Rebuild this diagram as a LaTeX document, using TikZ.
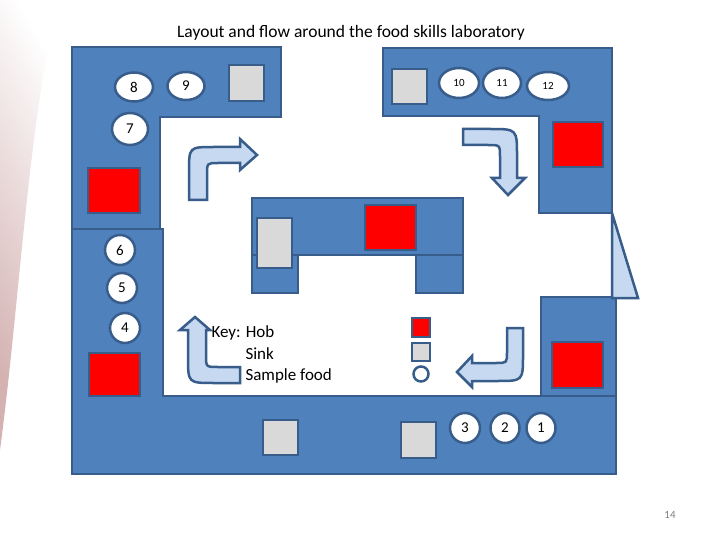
\documentclass[tikz,border=0pt]{standalone}
\usepackage{fontspec}
\setmainfont{Carlito}
\usetikzlibrary{shapes.geometric}
\begin{document}
\begin{tikzpicture}[x=1pt,y=-1pt,
  bl/.style={fill=bench,draw=bdr,line width=2.5pt},
  hob/.style={fill=red,draw=bdr,line width=2.5pt},
  sink/.style={fill=sinkc,draw=bdr,line width=2.5pt},
  food/.style={ellipse,fill=white,draw=bdr,line width=2.5pt,inner sep=0pt,font=\fontsize{15}{16}\selectfont},
  foodsm/.style={food,font=\fontsize{11}{12}\selectfont},
  keytxt/.style={anchor=west,font=\fontsize{17}{19}\selectfont},
  arr/.style={fill=arrc,draw=bdr,line width=2.5pt,line join=miter}]
\definecolor{bench}{HTML}{4F81BD}
\definecolor{bdr}{HTML}{385D8A}
\definecolor{sinkc}{HTML}{D9D9D9}
\definecolor{arrc}{HTML}{C6D9F1}
\useasboundingbox (0,0) rectangle (720,540);
\fill[white] (0,0) rectangle (720,540);
\shade[left color=red!45!black!60, right color=white, shading angle=120, opacity=0.5] (0,0) -- (60,0) .. controls (30,100) and (20,300) .. (0,450) -- cycle;
\fill[white] (18,450) rectangle (72,522);
\node (title) at (351,33) {\fontsize{17.5}{20}\selectfont Layout and flow around the food skills laboratory};
% benches
\draw[bl] (72,47) -- (281,47) -- (281,117) -- (160,117) -- (160,229) -- (72,229) -- cycle;
\draw[bl] (72,229) -- (163,229) -- (163,396) -- (616,396) -- (616,474) -- (72,474) -- cycle;
\draw[bl] (383,48) -- (612,48) -- (612,213) -- (539,213) -- (539,116) -- (383,116) -- cycle;
\draw[bl] (541,297) rectangle (616,396);
\draw[bl,fill=arrc] (612,213) -- (638,298) -- (612,298) -- cycle;
% island
\draw[bl] (252,198) rectangle (463,255);
\draw[bl] (252,255) rectangle (298,293);
\draw[bl] (416,255) rectangle (463,293);
\draw[sink] (257,218) rectangle (292,268);
\draw[hob] (365,205) rectangle (416,250);
% sinks
\draw[sink] (229,65) rectangle (264,101);
\draw[sink] (392,69) rectangle (427,104);
\draw[sink] (263,420) rectangle (298,455);
\draw[sink] (401,422) rectangle (436,458);
% hobs
\draw[hob] (88,168) rectangle (140,213);
\draw[hob] (89,353) rectangle (140,396);
\draw[hob] (553,122) rectangle (603,167);
\draw[hob] (552,342) rectangle (603,388);
% food samples
\node[food,minimum width=38pt,minimum height=29pt] (n8) at (134,87) {8};
\node[food,minimum width=37pt,minimum height=28pt] (n9) at (186,86) {9};
\node[foodsm,minimum width=40pt,minimum height=30pt] (n10) at (459,83) {10};
\node[foodsm,minimum width=38pt,minimum height=30pt] (n11) at (502,83) {11};
\node[foodsm,minimum width=42pt,minimum height=28pt] (n12) at (548,86) {12};
\node[food,minimum width=36pt,minimum height=32pt] (n7) at (130,129) {7};
\node[food,minimum width=30pt,minimum height=30pt] (n6) at (120,250) {6};
\node[food,minimum width=30pt,minimum height=30pt] (n5) at (122,288) {5};
\node[food,minimum width=30pt,minimum height=30pt] (n4) at (125,328) {4};
\node[food,minimum width=30pt,minimum height=30pt] (n3) at (465,428) {3};
\node[food,minimum width=29pt,minimum height=30pt] (n2) at (505,428) {2};
\node[food,minimum width=29pt,minimum height=30pt] (n1) at (541,428) {1};
% arrows
\draw[arr] (189,200) -- (189,172) .. controls (189,147) .. (214,147) -- (240,147) -- (240,139) -- (257,155) -- (240,170) -- (240,163) -- (218,163) .. controls (207,163) .. (207,175) -- (207,200) -- cycle;
\draw[arr] (463,129) -- (490,129) .. controls (517,129) .. (517,156) -- (517,178) -- (525,178) -- (508,195) -- (492,178) -- (500,178) -- (500,157) .. controls (500,145) .. (488,145) -- (463,145) -- cycle;
\draw[arr] (507,328) -- (523,328) -- (523,355) .. controls (523,381) .. (497,381) -- (472,381) -- (472,387) -- (457,372) -- (472,356) -- (472,363) -- (496,363) .. controls (507,363) .. (507,352) -- cycle;
\draw[arr] (240,383) -- (214,383) .. controls (188,383) .. (188,357) -- (188,330) -- (180,330) -- (195,317) -- (210,330) -- (206,330) -- (206,355) .. controls (206,367) .. (218,367) -- (240,367) -- cycle;
% key
\node[keytxt] (k1) at (208,333) {Key: Hob};
\node[keytxt] (k2) at (242,354) {Sink};
\node[keytxt] (k3) at (242,376) {Sample food};
\draw[hob] (412,318) rectangle (430,337);
\draw[sink] (412,343) rectangle (430,361);
\draw[fill=white,draw=bdr,line width=2.5pt] (421,374) circle (7.5);
\node[text=gray,font=\fontsize{11}{12}\selectfont] (pg) at (670,515) {14};
\end{tikzpicture}
\end{document}
